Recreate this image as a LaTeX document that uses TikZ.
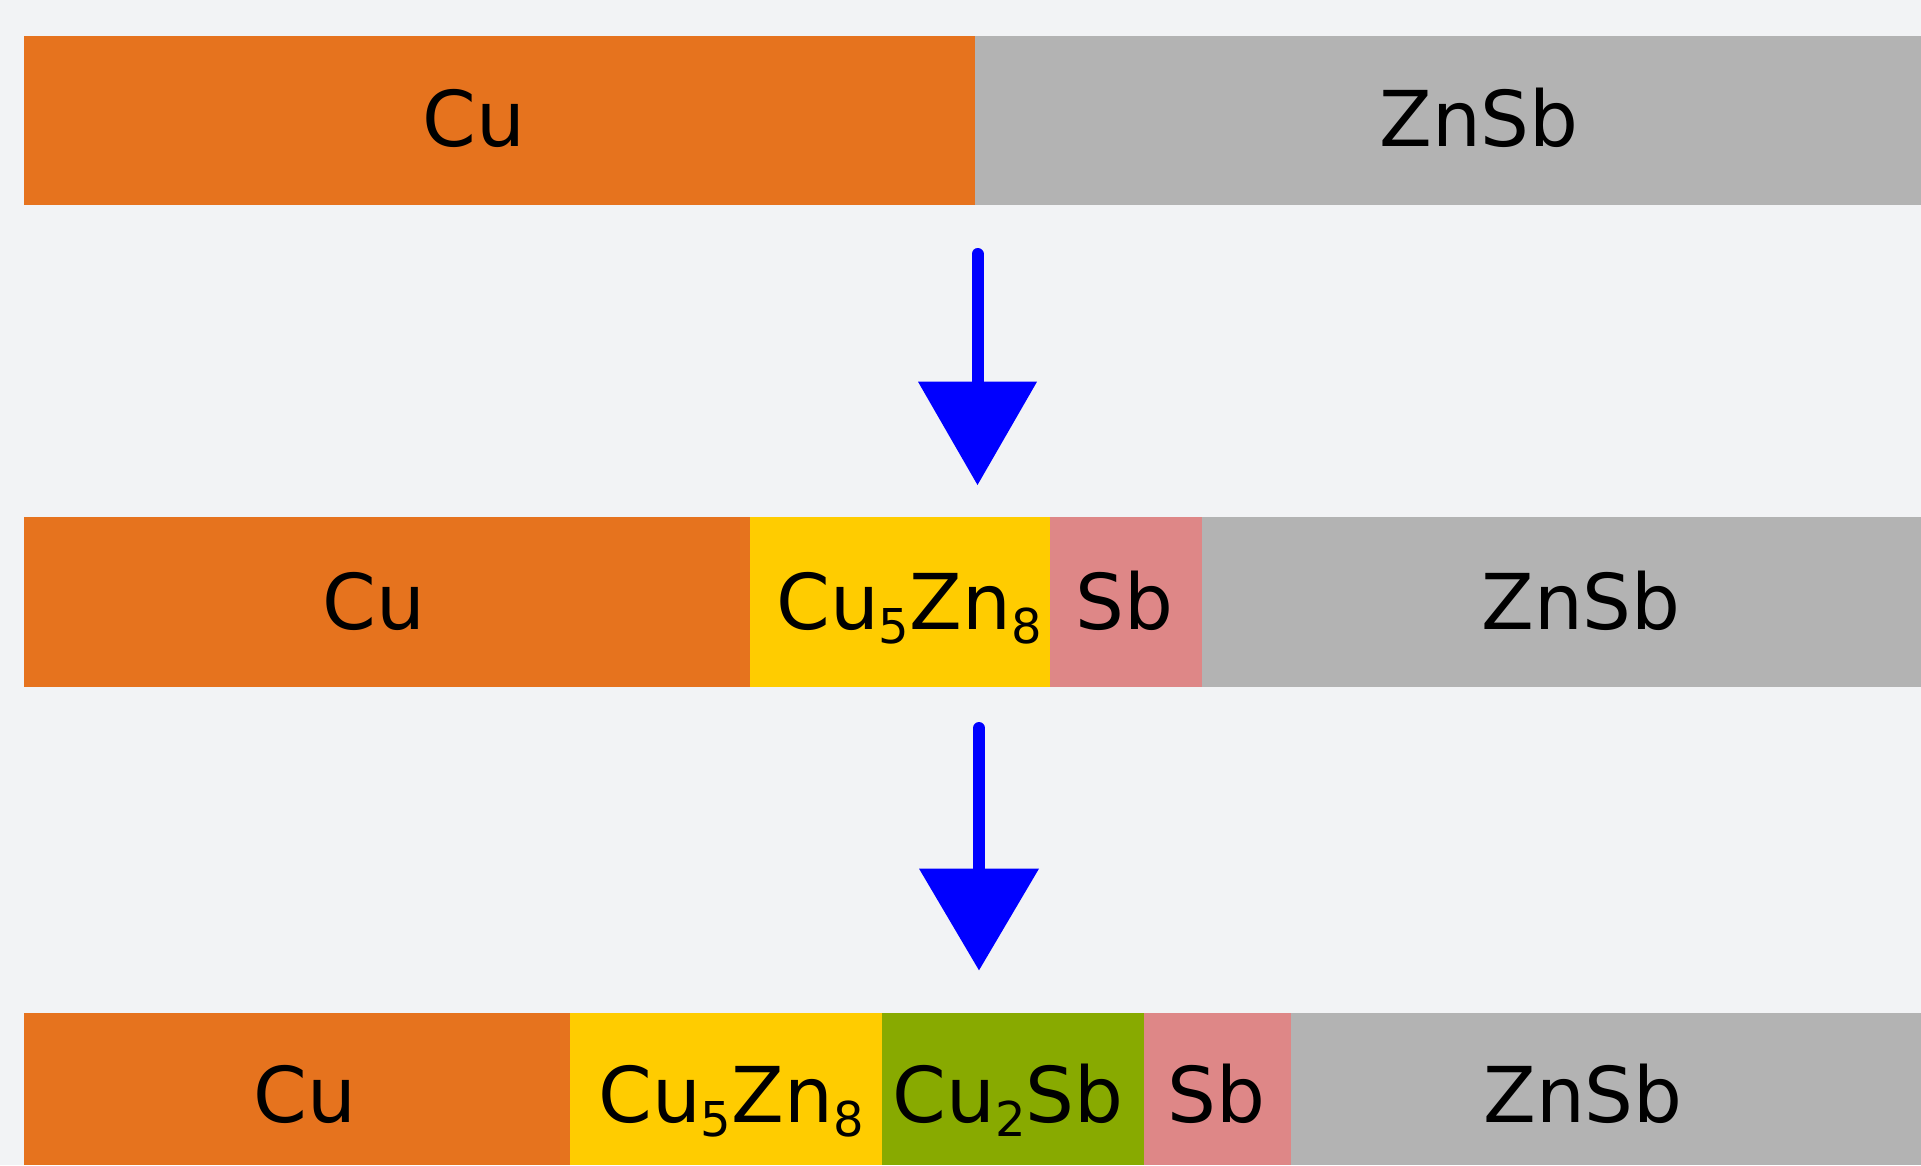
\documentclass[tikz,border=0pt]{standalone}
\usepackage{fontspec}
\setmainfont{DejaVu Sans}
\definecolor{bg}{HTML}{F2F3F5}
\definecolor{cuc}{HTML}{E6731E}
\definecolor{znsbc}{HTML}{B3B3B3}
\definecolor{cuznc}{HTML}{FFCC00}
\definecolor{sbc}{HTML}{DE8787}
\definecolor{cusbc}{HTML}{88AA00}
\newcommand{\sbs}[1]{\raisebox{-14pt}{\fontsize{48}{48}\selectfont #1}}
\begin{document}
\begin{tikzpicture}[x=1pt,y=-1pt,
  lbl/.style={anchor=base,inner sep=0pt,font=\fontsize{77}{77}\selectfont,text=black},
  shaft/.style={draw=blue,line width=12pt,line cap=round},
  head/.style={fill=blue}]
\useasboundingbox (0,0) rectangle (1921,1165);
\fill[bg] (0,0) rectangle (1921,1165);
% top bar
\fill[cuc] (24,35.5) rectangle (975,204.5);
\fill[znsbc] (975,35.5) rectangle (1921,204.5);
\node[lbl] (t1) at (474,146) {Cu};
\node[lbl] (t2) at (1479,146) {ZnSb};
% middle bar
\fill[cuc] (24,517) rectangle (750,687);
\fill[cuznc] (750,517) rectangle (1050,687);
\fill[sbc] (1050,517) rectangle (1202,687);
\fill[znsbc] (1202,517) rectangle (1921,687);
\node[lbl] (m1) at (374,629) {Cu};
\node[lbl] (m2) at (909,629) {Cu\sbs{5}Zn\sbs{8}};
\node[lbl] (m3) at (1124,629) {Sb};
\node[lbl] (m4) at (1581,629) {ZnSb};
% bottom bar
\fill[cuc] (24,1013) rectangle (570,1165);
\fill[cuznc] (570,1013) rectangle (882,1165);
\fill[cusbc] (882,1013) rectangle (1144,1165);
\fill[sbc] (1144,1013) rectangle (1291,1165);
\fill[znsbc] (1291,1013) rectangle (1921,1165);
\node[lbl] (b1) at (305,1122) {Cu};
\node[lbl] (b2) at (731,1122) {Cu\sbs{5}Zn\sbs{8}};
\node[lbl] (b3) at (1008,1122) {Cu\sbs{2}Sb};
\node[lbl] (b4) at (1216,1122) {Sb};
\node[lbl] (b5) at (1583,1122) {ZnSb};
% arrows
\coordinate (a1s) at (977.5,254);
\coordinate (a1e) at (977.5,390);
\draw[shaft] (a1s) -- (a1e);
\fill[head] (918,381.7) -- (1037,381.7) -- (977.5,485) -- cycle;
\coordinate (a2s) at (979,728);
\coordinate (a2e) at (979,875);
\draw[shaft] (a2s) -- (a2e);
\fill[head] (919,868.6) -- (1039,868.6) -- (979,970.3) -- cycle;
\end{tikzpicture}
\end{document}
